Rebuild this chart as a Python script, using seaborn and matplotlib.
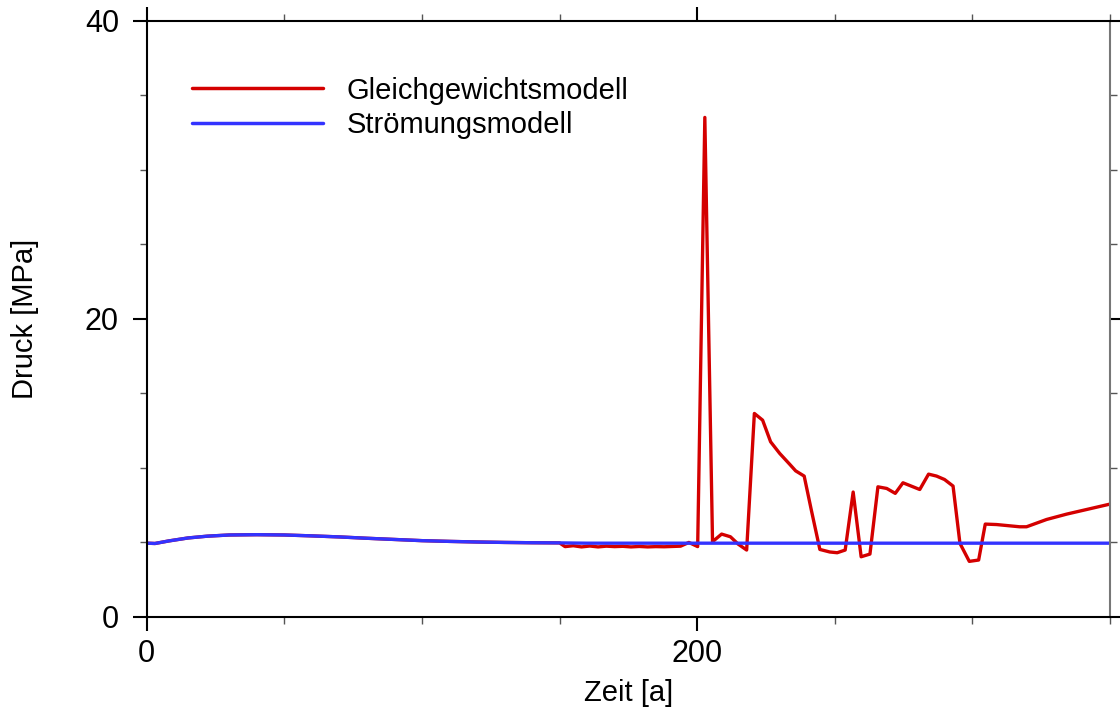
import numpy as np
import pandas as pd
import matplotlib
matplotlib.use("Agg")
import matplotlib.pyplot as plt
from matplotlib.ticker import MultipleLocator
import seaborn as sns

# Flow model: pressure over time
t_flow = [0, 3, 8, 15, 22, 30, 40, 50, 60, 70, 80, 90, 100, 110, 120,
          130, 140, 150, 160, 350]
p_flow = [4.95, 4.93, 5.10, 5.30, 5.42, 5.50, 5.52, 5.50, 5.44, 5.37, 5.28,
          5.20, 5.12, 5.07, 5.03, 5.00, 4.98, 4.97, 4.95, 4.95]

# Equilibrium model: pressure over time
t_eq = [0, 3, 8, 15, 22, 30, 40, 50, 60, 70, 80, 90, 100, 110, 120, 130, 140,
        150, 152, 155, 158, 161, 164, 167, 170, 173, 176, 179, 182, 185, 188,
        191, 194, 197, 200.2, 202.8, 205.6, 208.9, 212.1, 214.9, 218.0,
        220.8, 223.8, 226.7, 230.0, 233.6, 235.8, 238.9, 241.5, 244.6, 248.2,
        250.9, 253.8, 256.7, 259.6, 262.8, 265.7, 268.9, 272.0, 274.8, 280.9,
        284.1, 287.0, 289.9, 293.0, 295.5, 298.9, 302.3, 304.7, 308.8, 317.2,
        319.7, 327.0, 334.3, 350.0]
p_eq = [4.95, 4.93, 5.10, 5.30, 5.42, 5.50, 5.52, 5.50, 5.44, 5.37, 5.28,
        5.20, 5.12, 5.07, 5.03, 5.00, 4.98, 4.97, 4.72, 4.78, 4.70, 4.76,
        4.70, 4.75, 4.72, 4.74, 4.70, 4.73, 4.70, 4.72, 4.71, 4.73, 4.75,
        5.00, 4.72, 33.5, 5.05, 5.56, 5.38, 4.89, 4.49, 13.65, 13.20, 11.75,
        10.97, 10.25, 9.80, 9.45, 7.17, 4.53, 4.36, 4.31, 4.49, 8.38, 4.04,
        4.22, 8.73, 8.62, 8.29, 9.00, 8.55, 9.58, 9.45, 9.22, 8.78, 4.94,
        3.73, 3.82, 6.23, 6.20, 6.05, 6.05, 6.54, 6.90, 7.57]

label_eq = "Gleichgewichtsmodell"
label_flow = "Strömungsmodell"

df_eq = pd.DataFrame({"t": t_eq, "p": p_eq})
df_flow = pd.DataFrame({"t": t_flow, "p": p_flow})

sns.set_style("ticks")
plt.rcParams["font.family"] = ["Liberation Sans", "DejaVu Sans"]
plt.rcParams["text.color"] = "black"
plt.rcParams["axes.labelcolor"] = "black"
FS = 21
FS_TICK = 22

fig = plt.figure(figsize=(11.2, 7.07), dpi=100)
ax = fig.add_axes([0.131, 0.1273, 0.86, 0.8437])

sns.lineplot(data=df_eq, x="t", y="p", ax=ax, color="#d40000",
             linewidth=2.4, label=label_eq)
sns.lineplot(data=df_flow, x="t", y="p", ax=ax, color="#3333ff",
             linewidth=2.4, label=label_flow)

ax.set_xlim(0, 350)
ax.set_ylim(0, 40)
ax.xaxis.set_major_locator(MultipleLocator(200))
ax.xaxis.set_minor_locator(MultipleLocator(50))
ax.yaxis.set_major_locator(MultipleLocator(20))
ax.yaxis.set_minor_locator(MultipleLocator(5))

ax.tick_params(which="both", direction="out", top=True, right=True,
               labeltop=False, labelright=False, colors="black")
ax.tick_params(which="major", length=10, width=1.5)
ax.tick_params(which="minor", length=5, width=1.0, color="#555555")
ax.tick_params(axis="x", which="major", labelsize=FS_TICK, pad=6)
ax.tick_params(axis="y", which="major", labelsize=FS_TICK, pad=10)

for side in ["left", "bottom", "top"]:
    ax.spines[side].set_linewidth(1.5)
    ax.spines[side].set_color("black")
ax.spines["right"].set_linewidth(1.5)
ax.spines["right"].set_color("#777777")

ax.set_xlabel("Zeit [a]", fontsize=FS, labelpad=7)
ax.set_ylabel("Druck [MPa]", fontsize=FS, labelpad=33)

leg = ax.legend(loc="upper left", bbox_to_anchor=(0.0467, 0.906),
                frameon=False, fontsize=FS, borderpad=0, borderaxespad=0,
                handlelength=4.5, handletextpad=0.8, labelspacing=0.22)
for line in leg.get_lines():
    line.set_linewidth(2.5)

fig.savefig("out.png", dpi=100, facecolor="white")
